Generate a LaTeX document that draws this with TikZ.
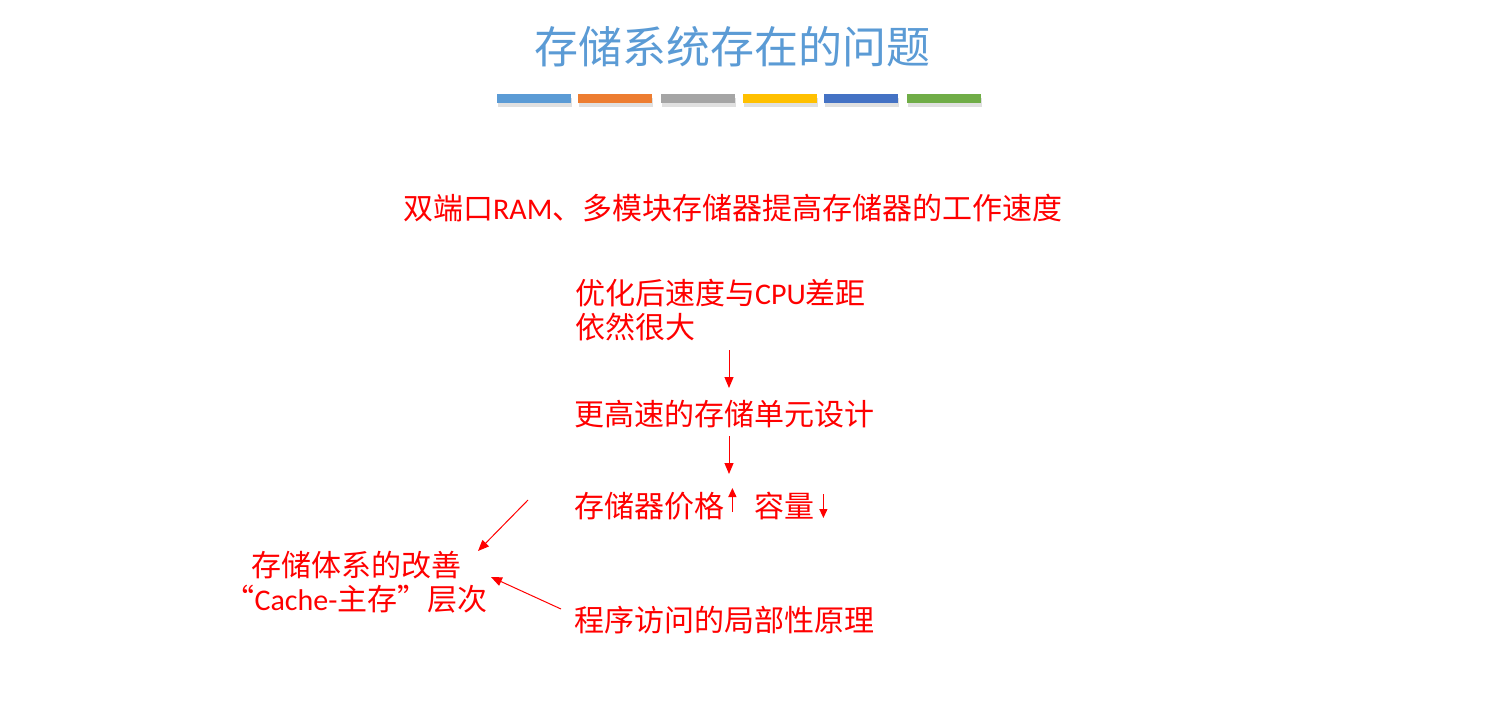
\documentclass[tikz,border=0pt]{standalone}
\usepackage{fontspec}
\setmainfont{Carlito}
\newfontfamily\cjk{Noto Sans CJK SC}
\usetikzlibrary{arrows.meta}
\definecolor{tblue}{HTML}{5B9BD5}
\definecolor{c1}{HTML}{5B9BD5}
\definecolor{c2}{HTML}{ED7D31}
\definecolor{c3}{HTML}{A5A5A5}
\definecolor{c4}{HTML}{FFC000}
\definecolor{c5}{HTML}{4472C4}
\definecolor{c6}{HTML}{70AD47}
\definecolor{tred}{HTML}{FF0000}
\begin{document}
\begin{tikzpicture}[x=1pt,y=-1pt,
  txt/.style={inner sep=0pt,text=tred,font=\cjk\fontsize{30}{34}\selectfont},
  conn/.style={draw=tred,line width=1pt,-{Triangle[length=11pt,width=9pt]}},
  small/.style={draw=tred,line width=1.2pt,-{Triangle[length=9pt,width=8pt]}},
  bar/.style={inner sep=0pt,minimum width=74pt,minimum height=9pt}]
\useasboundingbox (0,0) rectangle (1499,728);
% title
\node[inner sep=0pt,text=tblue,font=\cjk\fontsize{44}{48}\selectfont] (title) at (732,47) {存储系统存在的问题};
% bars
\foreach \x/\c [count=\i] in {497/c1,578/c2,661/c3,743/c4,824/c5,907/c6}{
  \fill[black,opacity=0.12] (\x+1,98) rectangle ++(74,9);
  \node[bar,fill=\c,anchor=north west] (bar\i) at (\x,94) {};
}
% texts
\node[txt,anchor=west] (n1) at (403,208) {双端口{\rmfamily RAM}、多模块存储器提高存储器的工作速度};
\node[txt,anchor=north west,align=left] (n2) at (575,279) {优化后速度与{\rmfamily CPU}差距\\依然很大};
\node[txt,anchor=west] (n3) at (574,414) {更高速的存储单元设计};
\node[txt,anchor=west] (n4) at (574,506) {存储器价格};
\node[txt,anchor=west] (n4b) at (754,506) {容量};
\node[txt,anchor=center,align=center] (n5) at (356,582) {存储体系的改善\\“{\rmfamily Cache-}主存”层次};
\node[txt,anchor=west] (n6) at (574,620) {程序访问的局部性原理};
% connectors
\draw[conn] (729,350) coordinate (a1s) -- (729,388) coordinate (a1e);
\draw[conn] (729,436) coordinate (a2s) -- (729,474) coordinate (a2e);
\draw[small] (n4.east) ++(8,6) coordinate (u1) -- ++(0,-24);
\draw[small] (n4b.east) ++(9,-12) coordinate (d1) -- ++(0,24);
\coordinate (b1) at (528,500);
\coordinate (b2) at (478,551);
\coordinate (c1s) at (561,609);
\coordinate (c1e) at (491,577);
\draw[conn] (b1) -- (b2);
\draw[conn] (c1s) -- (c1e);
\end{tikzpicture}
\end{document}
